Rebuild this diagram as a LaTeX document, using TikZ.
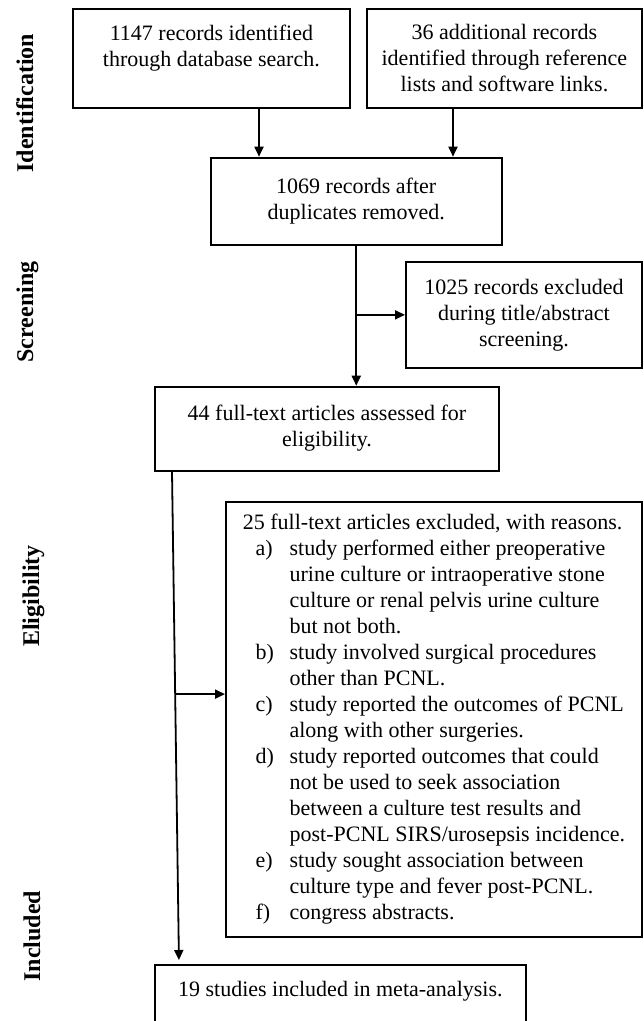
\documentclass[tikz,border=0pt]{standalone}
\usepackage{fontspec}
\setmainfont{Liberation Serif}
\usetikzlibrary{arrows.meta,calc}
\newcommand{\reason}[2]{\hspace*{12.6pt}\makebox[34.1pt][l]{#1}#2}
\newcommand{\reasonmore}[1]{\hspace*{46.7pt}#1}
\begin{document}
\begin{tikzpicture}[x=1pt,y=-1pt,
  box/.style={draw,line width=2pt,inner sep=0pt,font=\fontsize{22}{26}\selectfont},
  phase/.style={rotate=90,anchor=base,font=\fontsize{24}{28}\selectfont\bfseries},
  link/.style={line width=1.8pt,-{Triangle[length=10pt,width=9pt]}}]
\useasboundingbox (0,0) rectangle (644,1021);
\clip (0,0) rectangle (644,1021);
% stage labels
\node[phase] (idlab) at (33,103) {Identification};
\node[phase] (scrlab) at (33,312) {Screening};
\node[phase] (eliglab) at (39,596) {Eligibility};
\node[phase] (incllab) at (40,936) {Included};
% boxes
\node[box,align=center,minimum width=277.3pt,minimum height=99pt] (dbrec) at (211.4,58.5)
  {1147 records identified\\through database search.\\~};
\node[box,align=center,minimum width=275.3pt,minimum height=99pt] (extrarec) at (504.4,58.5)
  {36 additional records\\identified through reference\\lists and software links.};
\node[box,align=center,minimum width=291.1pt,minimum height=86.8pt] (dedup) at (356.25,201.1)
  {1069 records after\\duplicates removed.};
\node[box,align=center,minimum width=236pt,minimum height=106.3pt] (screenout) at (524,314.85)
  {1025 records excluded\\during title/abstract\\screening.};
\node[box,align=center,minimum width=344pt,minimum height=83.8pt] (fulltext) at (327,428.6)
  {44 full-text articles assessed for\\eligibility.};
\node[box,align=left,minimum width=416pt,minimum height=435pt] (fullout) at (434,719.2)
  {25 full-text articles excluded, with reasons.\\
   \reason{a)}{study performed either preoperative}\\
   \reasonmore{urine culture or intraoperative stone}\\
   \reasonmore{culture or renal pelvis urine culture}\\
   \reasonmore{but not both.}\\
   \reason{b)}{study involved surgical procedures}\\
   \reasonmore{other than PCNL.}\\
   \reason{c)}{study reported the outcomes of PCNL}\\
   \reasonmore{along with other surgeries.}\\
   \reason{d)}{study reported outcomes that could}\\
   \reasonmore{not be used to seek association}\\
   \reasonmore{between a culture test results and}\\
   \reasonmore{post-PCNL SIRS/urosepsis incidence.}\\
   \reason{e)}{study sought association between}\\
   \reasonmore{culture type and fever post-PCNL.}\\
   \reason{f)}{congress abstracts.}};
\node[box,align=center,minimum width=370.7pt,minimum height=100pt] (meta) at (340.35,1015)
  {19 studies included in meta-analysis.\\~\\~};
% connectors
\coordinate (dbx) at (259,0);
\coordinate (extrax) at (453,0);
\coordinate (fullx) at (172,0);
\coordinate (metax) at (179,0);
\draw[link] (dbrec.south -| dbx) -- (dbx |- dedup.north);
\draw[link] (extrarec.south -| extrax) -- (extrax |- dedup.north);
\draw[link] (dedup.south) -- (dedup.south |- fulltext.north);
\draw[link] (dedup.south |- screenout.west) -- (screenout.west);
\draw[link,shorten >=4pt] (fulltext.south -| fullx) -- (metax |- meta.north);
\coordinate (split) at ($(fulltext.south -| fullx)!0.452!(metax |- meta.north)$);
\draw[link] (split) -- (split -| fullout.west);
\end{tikzpicture}
\end{document}
